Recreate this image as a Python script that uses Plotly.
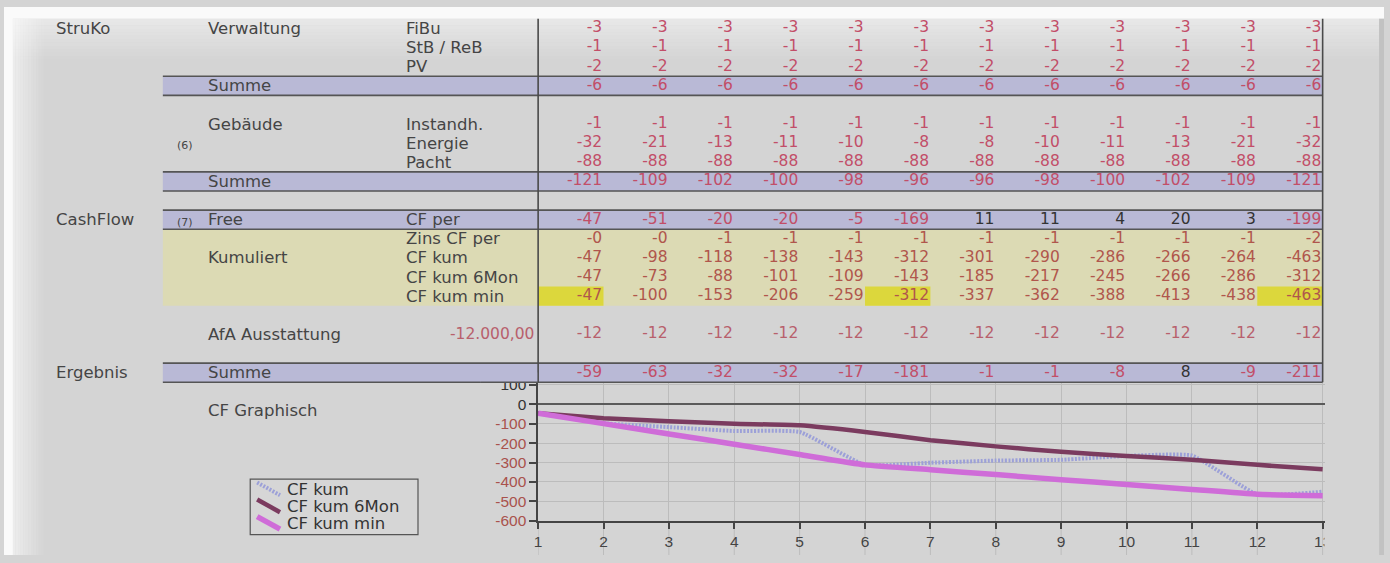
import plotly.graph_objects as go

# ---------------- monthly table values (columns 1..12) ----------------
months = [1, 2, 3, 4, 5, 6, 7, 8, 9, 10, 11, 12]

fibu = [-3, -3, -3, -3, -3, -3, -3, -3, -3, -3, -3, -3]
stb_reb = [-1, -1, -1, -1, -1, -1, -1, -1, -1, -1, -1, -1]
pv = [-2, -2, -2, -2, -2, -2, -2, -2, -2, -2, -2, -2]
verwaltung_summe = [-6, -6, -6, -6, -6, -6, -6, -6, -6, -6, -6, -6]

instandh = [-1, -1, -1, -1, -1, -1, -1, -1, -1, -1, -1, -1]
energie = [-32, -21, -13, -11, -10, -8, -8, -10, -11, -13, -21, -32]
pacht = [-88, -88, -88, -88, -88, -88, -88, -88, -88, -88, -88, -88]
gebaeude_summe = [-121, -109, -102, -100, -98, -96, -96, -98, -100, -102, -109, -121]

cf_per = [-47, -51, -20, -20, -5, -169, 11, 11, 4, 20, 3, -199]
zins_cf_per = [-0.0, -0.0, -1, -1, -1, -1, -1, -1, -1, -1, -1, -2]
cf_kum = [-47, -98, -118, -138, -143, -312, -301, -290, -286, -266, -264, -463]
cf_kum_6mon = [-47, -73, -88, -101, -109, -143, -185, -217, -245, -266, -286, -312]
cf_kum_min = [-47, -100, -153, -206, -259, -312, -337, -362, -388, -413, -438, -463]

afa_ausstattung = [-12, -12, -12, -12, -12, -12, -12, -12, -12, -12, -12, -12]
afa_jahr = "-12.000,00"

ergebnis_summe = [-59, -63, -32, -32, -17, -181, -1, -1, -8, 8, -9, -211]

# ---------------- chart: month 13 runs past the last table column ----------------
chart_months = months + [13]
cf_kum_m13 = -450
cf_kum_6mon_m13 = -335
cf_kum_min_m13 = -470
y_ticks = [100, 0, -100, -200, -300, -400, -500, -600]

# ---------------- page geometry ----------------
W, H = 1390, 563
COL0, COLW = 538.0, 65.85      # x pixel of the first column boundary, column width
ROW0, ROWH = 22.0, 19.65       # y pixel of the first row centre, row height
FONT = "DejaVu Sans, Verdana, sans-serif"
AXFONT = "Liberation Sans, Arial, sans-serif"
FS_NUM = 15.5
FS_LBL = 16.5

LABEL = "#454545"
RED = "#c24e68"
RED_YELLOW = "#b0564c"
RED_AFA = "#b8606c"
DARK = "#333333"
BG = "#d4d4d4"
BAND = "#b9b9d6"
BAND_LINE = "#555555"
YELLOW = "#dcdab4"
HILITE = "#dcd73c"


def col(px):
    return (px - COL0) / COLW


def pxx(px):
    return px / W


def pxy(py):
    return 1 - py / H


def row_px(r):
    return ROW0 + ROWH * r


fig = go.Figure()

# ---------------- chart lines ----------------
series = [
    ("CF kum", cf_kum + [cf_kum_m13], dict(color="#9ca0d8", width=4, dash="2px,1.5px")),
    ("CF kum 6Mon", cf_kum_6mon + [cf_kum_6mon_m13], dict(color="#7b3b5f", width=4.5)),
    ("CF kum min", cf_kum_min + [cf_kum_min_m13], dict(color="#cf6cd8", width=5.5)),
]
for name, vals, style in series:
    fig.add_trace(go.Scatter(
        x=chart_months, y=vals, name=name, mode="lines",
        line=dict(shape="spline", smoothing=0.4, **style),
        xaxis="x", yaxis="y", hoverinfo="skip", showlegend=False))

# ---------------- table values ----------------
table_rows = [
    (0, fibu, RED), (1, stb_reb, RED), (2, pv, RED), (3, verwaltung_summe, RED),
    (5, instandh, RED), (6, energie, RED), (7, pacht, RED), (8, gebaeude_summe, RED),
    (10, cf_per, RED), (11, zins_cf_per, RED_YELLOW), (12, cf_kum, RED_YELLOW),
    (13, cf_kum_6mon, RED_YELLOW), (14, cf_kum_min, RED_YELLOW),
    (16, afa_ausstattung, RED_AFA), (18, ergebnis_summe, RED),
]
xs, ys, texts, colors = [], [], [], []
for r, vals, neg_color in table_rows:
    for m, v in zip(months, vals):
        s = f"{v:.0f}"
        xs.append(m - 0.02)
        ys.append(r)
        texts.append(s)
        colors.append(neg_color if s.startswith("-") else DARK)
fig.add_trace(go.Scatter(
    x=xs, y=ys, text=texts, mode="text", textposition="middle left",
    textfont=dict(family=FONT, size=FS_NUM, color=colors),
    xaxis="x2", yaxis="y2", hoverinfo="skip", showlegend=False))

shapes = []

# ---------------- page background: white frame and soft shadow ----------------
shapes.append(dict(type="rect", xref="paper", yref="paper", x0=0, x1=1, y0=pxy(12), y1=1,
                   fillcolor="#fafafa", line_width=0, layer="below"))
shapes.append(dict(type="rect", xref="paper", yref="paper", x0=0, x1=pxx(9), y0=0, y1=1,
                   fillcolor="#fafafa", line_width=0, layer="below"))
for i in range(12):
    a = 0.55 * (1 - i / 12)
    shapes.append(dict(type="rect", xref="paper", yref="paper",
                       x0=pxx(9 + 2.6 * i), x1=pxx(9 + 2.6 * (i + 1)), y0=0, y1=pxy(12),
                       fillcolor=f"rgba(255,255,255,{a:.3f})", line_width=0, layer="below"))
    b = 0.45 * (1 - i / 12)
    shapes.append(dict(type="rect", xref="paper", yref="paper",
                       x0=pxx(9), x1=1, y0=pxy(12 + 3.5 * (i + 1)), y1=pxy(12 + 3.5 * i),
                       fillcolor=f"rgba(255,255,255,{b:.3f})", line_width=0, layer="below"))
shapes.append(dict(type="rect", xref="paper", yref="paper", x0=pxx(1385), x1=1, y0=0, y1=pxy(12),
                   fillcolor="#c2c2c2", line_width=0, layer="below"))

# ---------------- table bands, borders and separators ----------------
left_band, right_band = col(160), 12
shapes.append(dict(type="rect", xref="x2", yref="y2", x0=left_band, x1=right_band,
                   y0=10.5, y1=14.5, fillcolor=YELLOW, line_width=0, layer="below"))
for m, lo, kum in zip(months, cf_kum_min, cf_kum):
    if lo == kum:
        shapes.append(dict(type="rect", xref="x2", yref="y2", x0=m - 1, x1=m,
                           y0=13.5, y1=14.5, fillcolor=HILITE, line_width=0, layer="below"))
for r in (3, 8, 10, 18):
    shapes.append(dict(type="rect", xref="x2", yref="y2", x0=left_band, x1=right_band,
                       y0=r - 0.5, y1=r + 0.5, fillcolor=BAND, line_width=0, layer="below"))
    for yy in (r - 0.5, r + 0.5):
        shapes.append(dict(type="line", xref="x2", yref="y2", x0=left_band, x1=right_band,
                           y0=yy, y1=yy, line=dict(color=BAND_LINE, width=1.6), layer="below"))
for xx in (0, 12):
    shapes.append(dict(type="line", xref="x2", yref="y2", x0=xx, x1=xx, y0=-0.5, y1=18.5,
                       line=dict(color="#4a4a4a", width=1.6), layer="below"))

# the result band overlaps the top of the chart's first tick label
band_bottom = row_px(18.5)
shapes.append(dict(type="rect", xref="paper", yref="paper", x0=pxx(480), x1=pxx(537),
                   y0=pxy(band_bottom), y1=pxy(band_bottom - 10), fillcolor=BAND,
                   line_width=0, layer="above"))
shapes.append(dict(type="line", xref="paper", yref="paper", x0=pxx(480), x1=pxx(537),
                   y0=pxy(band_bottom), y1=pxy(band_bottom),
                   line=dict(color=BAND_LINE, width=1.6), layer="above"))

# ---------------- chart gridlines running below the x axis ----------------
for m in chart_months:
    shapes.append(dict(type="line", xref="x", yref="paper", x0=m, x1=m, y0=0, y1=pxy(528),
                       line=dict(color="#bcbcbc", width=1), layer="below"))
# right border clips the last month label
shapes.append(dict(type="rect", xref="paper", yref="paper", x0=pxx(1330), x1=pxx(1385),
                   y0=0, y1=pxy(531), fillcolor=BG, line_width=0, layer="above"))

# ---------------- legend box with slanted line keys ----------------
annotations = []
shapes.append(dict(type="rect", xref="paper", yref="paper", x0=pxx(248), x1=pxx(417),
                   y0=pxy(542), y1=pxy(485), fillcolor="#d6d6d6",
                   line=dict(color="#555555", width=1.2), layer="above"))
for i, (name, _, style) in enumerate(series):
    yc = 495.5 + 17.5 * i
    key = dict(color=style["color"], width=style["width"])
    if "dash" in style:
        key["dash"] = style["dash"]
    shapes.append(dict(type="line", xref="paper", yref="paper",
                       x0=pxx(255), x1=pxx(278), y0=pxy(yc - 7), y1=pxy(yc + 6),
                       line=key, layer="above"))
    annotations.append(dict(text=name, x=pxx(283), xref="paper", y=pxy(yc), yref="paper",
                            xanchor="left", yanchor="middle", showarrow=False,
                            font=dict(family=FONT, size=FS_LBL, color="#333333")))


# ---------------- row labels ----------------
def label(text, px, row, size=FS_LBL, color=LABEL, anchor="left"):
    annotations.append(dict(text=text, x=pxx(px), xref="paper", y=row, yref="y2",
                            xanchor=anchor, yanchor="middle", showarrow=False,
                            font=dict(family=FONT, size=size, color=color)))


label("StruKo", 50, 0)
label("Verwaltung", 203, 0)
label("FiBu", 403, 0)
label("StB / ReB", 403, 1)
label("PV", 403, 2)
label("Summe", 203, 3)
label("Gebäude", 203, 5)
label("Instandh.", 403, 5)
label("(6)", 172, 6.1, size=11)
label("Energie", 403, 6)
label("Pacht", 403, 7)
label("Summe", 203, 8)
label("CashFlow", 50, 10)
label("(7)", 172, 10.15, size=11)
label("Free", 203, 10)
label("CF per", 403, 10)
label("Zins CF per", 403, 11)
label("Kumuliert", 203, 12)
label("CF kum", 403, 12)
label("CF kum 6Mon", 403, 13)
label("CF kum min", 403, 14)
label("AfA Ausstattung", 203, 16)
label(afa_jahr, 536, 16, size=FS_NUM, color=RED_AFA, anchor="right")
label("Ergebnis", 50, 18)
label("Summe", 203, 18)
label("CF Graphisch", 203, 20)

# ---------------- axes ----------------
tick_text = [
    f"<span style='color:{DARK if v >= 0 else '#a9524c'}'>{v}</span>" for v in y_ticks
]

fig.update_layout(
    width=W, height=H,
    margin=dict(l=0, r=0, t=0, b=0),
    paper_bgcolor=BG, plot_bgcolor="rgba(0,0,0,0)",
    font=dict(family=FONT, color=LABEL),
    shapes=shapes, annotations=annotations,
    xaxis=dict(domain=[pxx(538), pxx(1331)], range=[1, 1 + (1331 - 538) / COLW],
               anchor="y", tickvals=chart_months, ticks="outside", ticklen=6,
               tickcolor="#444444", tickwidth=1.5,
               showline=True, linecolor="#444444", linewidth=1.5,
               showgrid=True, gridcolor="#bcbcbc", gridwidth=1, zeroline=False,
               tickfont=dict(family=AXFONT, size=15.5, color="#444444"), fixedrange=True),
    yaxis=dict(domain=[pxy(528), pxy(386)], range=[-600, 110], anchor="x",
               tickvals=y_ticks, ticktext=tick_text, ticks="outside", ticklen=7,
               tickcolor="#444444", tickwidth=1.5,
               showline=True, linecolor="#444444", linewidth=1.5,
               showgrid=True, gridcolor="#bcbcbc", gridwidth=1,
               zeroline=True, zerolinecolor="#5a5a5a", zerolinewidth=1.5,
               tickfont=dict(family=AXFONT, size=15.5), fixedrange=True),
    xaxis2=dict(domain=[0, 1], range=[col(0), col(W)], anchor="y2", visible=False,
                fixedrange=True),
    yaxis2=dict(domain=[0, 1], range=[(H - ROW0) / ROWH, -ROW0 / ROWH], anchor="x2",
                visible=False, fixedrange=True),
    showlegend=False,
)

fig.write_html("out.html")
